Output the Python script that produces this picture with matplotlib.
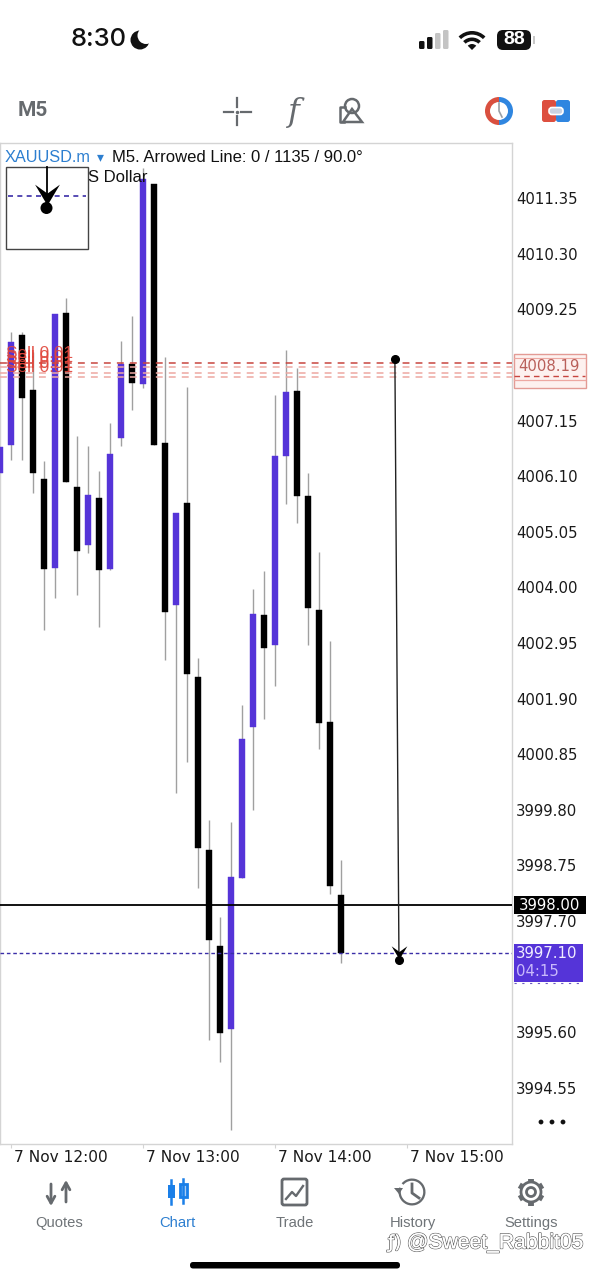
import numpy as np
import matplotlib
matplotlib.use("Agg")
import matplotlib.pyplot as plt
from matplotlib.patches import Rectangle, Circle, FancyBboxPatch, Wedge, Polygon
from matplotlib.path import Path
import matplotlib.patheffects as pe

# ---- data ----
opens  = [4006.16,4006.69,4008.76,4007.73,4006.05,4004.37,4009.18,4005.89,4004.80,4005.69,4004.35,4006.82,4008.22,4007.84,4011.61,4006.73,4003.67,4005.59,4002.31,3999.04,3997.23,3995.66,3998.51,4001.36,4003.48,4002.91,4006.48,4007.71,4005.73,4003.57,4001.46,3998.19]
highs  = [4006.65,4008.82,4008.82,4008.44,4006.39,4009.16,4009.46,4006.86,4006.67,4006.20,4007.10,4008.65,4009.12,4011.92,4011.61,4008.35,4005.40,4007.78,4002.67,3999.61,3997.78,3999.57,4001.78,4003.97,4004.31,4007.63,4008.48,4008.14,4006.16,4004.67,4002.99,3998.85]
lows   = [4006.16,4006.40,4006.40,4005.78,4003.20,4003.80,4005.99,4003.86,4004.65,4003.25,4004.33,4006.67,4007.35,4007.76,4006.69,4002.63,4000.12,4000.70,3998.33,3995.46,3995.04,3993.76,3998.51,3999.80,4001.52,4002.14,4005.57,4005.22,4002.91,4000.95,3998.21,3996.91]
closes = [4006.65,4008.63,4007.57,4006.16,4004.35,4009.16,4005.99,4004.69,4005.74,4004.33,4006.52,4008.22,4007.86,4011.71,4006.69,4003.54,4005.40,4002.37,3999.08,3997.34,3995.59,3998.53,4001.14,4003.50,4002.86,4006.48,4007.69,4005.73,4003.61,4001.44,3998.36,3997.10]
price_ticks = [4011.35,4010.30,4009.25,4007.15,4006.10,4005.05,4004.00,4002.95,4001.90,4000.85,3999.80,3998.75,3997.70,3995.60,3994.55]
time_pos = [1,13,25,37]
time_labels = ["7 Nov 12:00","7 Nov 13:00","7 Nov 14:00","7 Nov 15:00"]
order_lines = [4008.24,4008.16,4008.05,4007.97]
order_price = 4008.19
hline_price = 3998.00
bid_price = 3997.10
countdown = "04:15"
arrow_x = [35.9,36.27]
arrow_p = [4008.31,3996.97]
tabs = ["Quotes","Chart","Trade","History","Settings"]
tab_x = [59,177,295,413,531]

# ---- figure ----
W,H = 590,1280
plt.rcParams['font.family'] = ['DejaVu Sans']
AXF = 10.7
fig = plt.figure(figsize=(W/100,H/100),dpi=100,facecolor='white')
L,R,T,B = 0,512,143,1144
ax = fig.add_axes([L/W,1-B/H,(R-L)/W,(B-T)/H])
ui = fig.add_axes([0,0,1,1],zorder=5)
ui.set_xlim(0,W); ui.set_ylim(H,0); ui.axis('off'); ui.patch.set_alpha(0)

PURPLE='#5534d8'; WICK='#a0a0a0'; RED='#d9534a'; GREY='#666a6e'; BLUE='#2d7fd0'
ax.set_xlim(0,R/11)
ax.set_ylim(3993.49,4012.39)
for s in ax.spines.values():
    s.set_color('#d4d4d4'); s.set_linewidth(1.0)
ax.yaxis.tick_right()
ax.set_yticks(price_ticks)
ax.set_yticklabels([f"{v:.2f}" for v in price_ticks],fontsize=AXF,color='#1a1a1a')
ax.tick_params(axis='y',length=0,pad=3)
ax.set_xticks(time_pos)
ax.set_xticklabels(time_labels,fontsize=11.1,color='#1a1a1a',ha='left')
ax.tick_params(axis='x',length=3,color='#d4d4d4',pad=1)
for lab in ax.get_xticklabels():
    lab.set_transform(lab.get_transform()+matplotlib.transforms.ScaledTranslation(3/100,0,fig.dpi_scale_trans))

# candles
for i,(o,h,l,c) in enumerate(zip(opens,highs,lows,closes)):
    bull = c>o
    col = PURPLE if bull else 'black'
    ax.vlines(i,l,h,color=WICK,lw=1.0,zorder=2)
    ax.add_patch(Rectangle((i-0.27,min(o,c)),0.54,abs(c-o),fc=col,ec=col,lw=0.3,zorder=3))

# order lines
for k,p in enumerate(order_lines):
    ax.axhline(p,color='#c8453f' if k==0 else '#eda8a2',lw=1.1,ls=(0,(4.5,4)),zorder=4)
for dy,a in ((353,.9),(358,.9),(363,.9),(368,.9)):
    ui.text(6,dy,"Sell 0.01",fontsize=12.4,color='#e0453a',va='center',ha='left',alpha=a,family=['Liberation Sans'])

# price lines
ax.axhline(hline_price,color='black',lw=1.3,zorder=4)
ax.axhline(bid_price,color='#3b2ea8',lw=1.0,ls=(0,(2.6,2)),zorder=4)

# arrowed line
ax.plot(arrow_x,arrow_p,color='#222222',lw=1.0,zorder=6)
ax.plot(arrow_x[0],arrow_p[0],'o',color='black',ms=5.5,zorder=6)
ax.plot(arrow_x[1],arrow_p[1],'o',color='black',ms=5.5,zorder=6)
arrow_marker = Path([(-1,1.68),(0,.96),(1,1.68),(0,0),(-1,1.68)],[1,2,2,2,79])
ax.plot(arrow_x[1],arrow_p[1]+0.02,marker=arrow_marker,color='black',ms=19,mew=0,zorder=6)

# header texts
ui.text(5,157,"XAUUSD.m",fontsize=11.8,color=BLUE,va='center',ha='left',family=['Liberation Sans'])
ui.text(97,157.5,"▾",fontsize=10,color=BLUE,va='center',ha='left',family=['DejaVu Sans'])
ui.text(112,157,"M5. Arrowed Line: 0 / 1135 / 90.0°",fontsize=12,color='#111111',va='center',ha='left',family=['Liberation Sans'])
ui.text(88,177,"S Dollar",fontsize=12,color='#111111',va='center',ha='left',family=['Liberation Sans'])

# inset
ui.add_patch(Rectangle((5.5,166.5),82,82,fc='white',ec='#444444',lw=1.0,zorder=6))
ui.plot([8,86],[196,196],color='#3b2ea8',lw=1.2,ls=(0,(3,2.6)),zorder=7)
ui.plot([46.5,46.5],[167,205],color='black',lw=1.3,zorder=8)
ui.plot(46.5,205,marker=arrow_marker,color='black',ms=30,mew=0,zorder=8)
ui.add_patch(Circle((46.5,208),6,fc='black',ec='none',zorder=8))

# right-side boxes
ui.add_patch(Rectangle((513.5,353.5),72,34,fc='#fdf1ef',ec='#e39b95',lw=1.0,zorder=6))
ui.plot([514,585],[358,358],color='#eda8a2',lw=.8,zorder=7)
ui.plot([514,585],[376,376],color='#c8453f',lw=1.0,ls=(0,(4,3)),zorder=7)
ui.plot([514,585],[380,380],color='#eda8a2',lw=.9,zorder=7)
ui.text(548.5,366.5,f"{order_price:.2f}",fontsize=AXF,color='#b9605a',ha='center',va='center',zorder=8)
ui.add_patch(Rectangle((513.5,896),72.5,18,fc='black',ec='none',zorder=6))
ui.text(549.5,905,f"{hline_price:.2f}",fontsize=AXF,color='white',ha='center',va='center',zorder=8)
ui.add_patch(Rectangle((513.5,944),69.5,38,fc=PURPLE,ec='none',zorder=6))
ui.text(516,953.5,f"{bid_price:.2f}",fontsize=AXF,color='#f0ecff',ha='left',va='center',zorder=8)
ui.text(516,971,countdown,fontsize=AXF,color='#c9b9fb',ha='left',va='center',zorder=8)
ui.plot([514,583],[982.5,982.5],color='#6a5ac0',lw=.8,ls=(0,(2,5)),zorder=5)
for x in (541,552,563):
    ui.add_patch(Circle((x,1122),2.4,fc='#111111',ec='none'))

# status bar
ui.text(71,40,"8:30",fontsize=18.4,color='#111111',va='center',ha='left',weight='medium',family=['Inter'])
ui.add_patch(Circle((140,40),9.5,fc='#111111',ec='none'))
ui.add_patch(Circle((146,35.5),8.5,fc='white',ec='none'))
for x,h,c in [(419,8,'#111111'),(427,12,'#111111'),(435,16,'#c4c4c4'),(443,19,'#c4c4c4')]:
    ui.add_patch(FancyBboxPatch((x,49-h),5.5,h,boxstyle="round,pad=0,rounding_size=1.4",fc=c,ec='none'))
for r,th in [(19,3.6),(12.5,3.6)]:
    ui.add_patch(Wedge((472,50),r,-135,-45,width=th,fc='#111111',ec='none'))
ui.add_patch(Wedge((472,50),6,-135,-45,fc='#111111',ec='none'))
ui.add_patch(FancyBboxPatch((497,30),34,20,boxstyle="round,pad=0,rounding_size=6",fc='#111111',ec='none'))
ui.add_patch(Rectangle((533,36),2,8,fc='#c8c8c8',ec='none'))
ui.text(514,40,"88",fontsize=14,color='white',weight='bold',ha='center',va='center',family=['Liberation Sans'])

# toolbar
ui.text(18,111,"M5",fontsize=15,color=GREY,weight='bold',va='center',ha='left',family=['Roboto'])
for seg in [([224,233],[111.5,111.5]),([241,251],[111.5,111.5]),([237,237],[98,107]),([237,237],[116,125])]:
    ui.plot(*seg,color=GREY,lw=1.6)
ui.plot([237],[111.5],'o',color=GREY,ms=1.5)
ui.text(294,112,"f",fontsize=23,color=GREY,style='italic',ha='center',va='center',family=['DejaVu Serif'])
ui.add_patch(Circle((352,106),7,fc='none',ec=GREY,lw=1.8))
ui.add_patch(Polygon([(352,109),(343,122),(362,122)],closed=True,fc='none',ec=GREY,lw=1.8))
ui.plot([345,340,340,344],[107,107,122,122],color=GREY,lw=1.8)
ui.add_patch(Wedge((499,111),14,90,270,width=5,fc='#d9503f',ec='none'))
ui.add_patch(Wedge((499,111),14,-90,90,width=5,fc='#2f86e0',ec='none'))
ui.plot([499,499,502],[103,111,117],color='#9aa0a6',lw=1.2)
ui.add_patch(FancyBboxPatch((542,100),14,22,boxstyle="round,pad=0,rounding_size=2.5",fc='#dd4f3f',ec='none'))
ui.add_patch(FancyBboxPatch((556,100),14,22,boxstyle="round,pad=0,rounding_size=2.5",fc='#2f86e0',ec='none'))
ui.add_patch(FancyBboxPatch((549,107.5),14,7,boxstyle="round,pad=0,rounding_size=3",fc='#c9d3e2',ec='white',lw=1.2))

# tabs
for name,x in zip(tabs,tab_x):
    col = BLUE if name=="Chart" else '#6f7478'
    ui.text(x,1223,name,fontsize=10.6,color=col,ha='center',va='center',family=['Liberation Sans'])
# quotes icon
ic='#666a6e'
ui.annotate("",xy=(51,1206),xytext=(51,1184),arrowprops=dict(arrowstyle='->,head_width=.28,head_length=.5',color=ic,lw=2,shrinkA=0,shrinkB=0))
ui.annotate("",xy=(66,1180),xytext=(66,1202),arrowprops=dict(arrowstyle='->,head_width=.28,head_length=.5',color=ic,lw=2,shrinkA=0,shrinkB=0))
# chart icon
for x,yt,yb in [(171,1180,1204),(183,1179,1203)]:
    ui.plot([x,x],[yt,yb],color='#1a7fe8',lw=1.8)
ui.add_patch(Rectangle((167.5,1185),7,13,fc='#1a7fe8',ec='none'))
ui.add_patch(Rectangle((179.5,1184),7,13,fc='#a9cdf5',ec='#1a7fe8',lw=2))
# trade icon
ui.add_patch(FancyBboxPatch((282,1179),25,26,boxstyle="round,pad=0,rounding_size=2",fc='none',ec=ic,lw=2))
ui.plot([286,292,296,303],[1199,1192,1196,1186],color=ic,lw=1.7)
# history icon
ui.add_patch(Wedge((412,1192),13.5,-140,200,width=2.3,fc=ic,ec='none'))
ui.add_patch(Polygon([(394,1188),(403,1188),(399,1194)],fc=ic,ec='none'))
ui.plot([412,412,419],[1184,1193,1198],color=ic,lw=2)
# settings icon
ui.add_patch(Circle((531,1192),10,fc='none',ec=ic,lw=2))
ui.add_patch(Circle((531,1192),4.5,fc='none',ec=ic,lw=2))
for a in np.deg2rad(np.arange(30,390,60)):
    ui.plot([531+10*np.cos(a),531+13.5*np.cos(a)],[1192+10*np.sin(a),1192+13.5*np.sin(a)],color=ic,lw=4.2,solid_capstyle='butt')

# watermark and home bar
wm = ui.text(388,1243,"ƒ)",fontsize=13,color='white',va='center',ha='left',family=['DejaVu Sans'])
wm2 = ui.text(407,1243,"@Sweet_Rabbit05",fontsize=15.2,color='white',va='center',ha='left',family=['Liberation Sans'])
for t in (wm,wm2):
    t.set_path_effects([pe.withStroke(linewidth=1.1,foreground='#666666'),pe.Normal()])
ui.add_patch(FancyBboxPatch((190,1262),210,6.5,boxstyle="round,pad=0,rounding_size=3.2",fc='black',ec='none'))

fig.savefig('out.png',dpi=100,facecolor='white')
